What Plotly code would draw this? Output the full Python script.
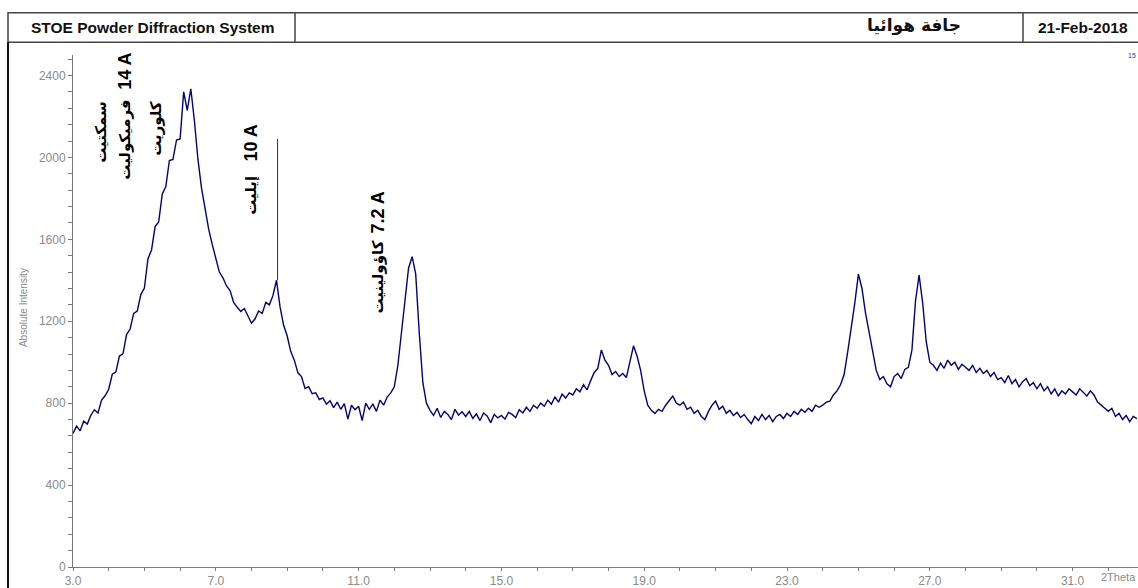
import plotly.graph_objects as go

# ---------------- data ----------------
two_theta_start = 3.0
two_theta_step = 0.1

counts_03_07 = [652, 688, 665, 712, 698, 741, 768, 752, 815, 836,
                868, 941, 952, 1030, 1041, 1135, 1162, 1238, 1250, 1330,
                1362, 1505, 1548, 1662, 1685, 1820, 1858, 1985, 1990, 2085,
                2090, 2320, 2230, 2335, 2180, 1990, 1850, 1745, 1650, 1575]
counts_07_11 = [1505, 1440, 1412, 1372, 1350, 1292, 1268, 1248, 1262, 1225,
                1190, 1212, 1250, 1238, 1292, 1280, 1325, 1400, 1270, 1180,
                1128, 1052, 1010, 948, 930, 872, 880, 846, 850, 818,
                826, 795, 812, 778, 805, 770, 798, 722, 790, 768]
counts_11_15 = [785, 715, 800, 770, 795, 760, 815, 790, 830, 850,
                880, 985, 1150, 1320, 1460, 1515, 1430, 1140, 900, 800,
                765, 740, 775, 730, 760, 745, 720, 770, 742, 758,
                735, 760, 725, 748, 715, 752, 738, 705, 745, 728]
counts_15_19 = [740, 722, 755, 745, 730, 768, 752, 780, 760, 790,
                775, 800, 785, 815, 795, 830, 805, 845, 825, 850,
                840, 870, 855, 890, 865, 910, 950, 970, 1060, 1010,
                985, 940, 955, 930, 945, 925, 1010, 1080, 1030, 960]
counts_19_23 = [860, 790, 765, 750, 770, 760, 790, 810, 835, 800,
                790, 805, 770, 780, 750, 765, 735, 720, 760, 790,
                810, 770, 785, 750, 765, 740, 755, 730, 745, 720,
                700, 735, 715, 745, 720, 740, 710, 735, 745, 725]
counts_23_27 = [750, 735, 760, 745, 770, 755, 775, 760, 790, 780,
                790, 805, 810, 840, 860, 890, 940, 1050, 1160, 1290,
                1430, 1360, 1240, 1140, 1040, 960, 915, 930, 895, 880,
                930, 945, 920, 965, 975, 1060, 1300, 1425, 1290, 1100]
counts_27_31 = [1000, 985, 960, 995, 970, 1010, 985, 1000, 965, 990,
                975, 960, 985, 950, 970, 945, 960, 930, 950, 915,
                925, 900, 935, 895, 915, 880, 905, 920, 885, 900,
                870, 895, 860, 880, 845, 870, 835, 860, 845, 870]
counts_31_33 = [855, 840, 870, 850, 835, 860, 840, 805, 790, 775,
                760, 775, 735, 750, 720, 740, 710, 735, 725]

x_tick_values = [3, 7, 11, 15, 19, 23, 27, 31]
x_tick_labels = ["3.0", "7.0", "11.0", "15.0", "19.0", "23.0", "27.0", "31.0"]
y_tick_values = [0, 400, 800, 1200, 1600, 2000, 2400]
y_tick_labels = ["0", "400", "800", "1200", "1600", "2000", "2400"]

illite_marker_2theta = 8.73
illite_marker_top = 2090
illite_marker_bottom = 1400

header_left = "STOE Powder Diffraction System"
header_mid = "جافة هوائيا"
header_right = "21-Feb-2018"

# labels: (text, px, py, font family, size)
peak_labels = [
    ("14 A", 125, 72, "Liberation Sans", 18),
    ("سمكتيت", 101, 133, "DejaVu Sans", 15),
    ("فرميكوليت", 125, 141, "DejaVu Sans", 15),
    ("كلوريت", 156, 130, "DejaVu Sans", 15),
    ("10 A", 251, 145, "Liberation Sans", 18),
    ("إيليت", 251, 198, "DejaVu Sans", 15),
    ("7.2 A", 378, 215, "Liberation Sans", 18),
    ("كاؤولينيت", 378, 281, "DejaVu Sans", 15),
]

# ---------------- build ----------------
counts = (counts_03_07 + counts_07_11 + counts_11_15 + counts_15_19 +
          counts_19_23 + counts_23_27 + counts_27_31 + counts_31_33)
two_theta = [round(two_theta_start + i * two_theta_step, 2) for i in range(len(counts))]

W, H = 1138, 588
L, R, T, B = 73, 0, 55, 13
PW, PH = W - L - R, H - T - B


def px(x):
    return (x - L) / PW


def py(y):
    return (H - B - y) / PH


GRAY = "#8a8a8a"
AXIS = "#7a7a7a"

fig = go.Figure()
fig.add_trace(go.Scatter(x=two_theta, y=counts, mode="lines",
                         line=dict(color="#000080", width=1.4),
                         hoverinfo="skip", showlegend=False))

# illite marker line
fig.add_trace(go.Scatter(x=[illite_marker_2theta, illite_marker_2theta],
                         y=[illite_marker_bottom, illite_marker_top],
                         mode="lines", line=dict(color="#333333", width=1),
                         hoverinfo="skip", showlegend=False))

shapes = []
# header box
shapes.append(dict(type="rect", xref="paper", yref="paper",
                   x0=px(8), x1=px(1145), y0=py(42), y1=py(12),
                   line=dict(color="#444444", width=1.5)))
for dx in (295, 1023):
    shapes.append(dict(type="line", xref="paper", yref="paper",
                       x0=px(dx), x1=px(dx), y0=py(42), y1=py(12),
                       line=dict(color="#444444", width=1.5)))
# left frame line
shapes.append(dict(type="line", xref="paper", yref="paper",
                   x0=px(8), x1=px(8), y0=py(42), y1=py(600),
                   line=dict(color="#111111", width=2)))

annotations = []
annotations.append(dict(text="<b>" + header_left + "</b>", x=px(152), y=py(27),
                        xref="paper", yref="paper", showarrow=False,
                        xanchor="center", yanchor="middle",
                        font=dict(family="Liberation Sans", size=15.5, color="#111111")))
annotations.append(dict(text="<b>" + header_mid + "</b>", x=px(914), y=py(25),
                        xref="paper", yref="paper", showarrow=False,
                        xanchor="center", yanchor="middle",
                        font=dict(family="DejaVu Sans", size=17, color="#111111")))
annotations.append(dict(text="<b>" + header_right + "</b>", x=px(1083), y=py(27),
                        xref="paper", yref="paper", showarrow=False,
                        xanchor="center", yanchor="middle",
                        font=dict(family="Liberation Sans", size=15.5, color="#111111")))
annotations.append(dict(text="15", x=px(1132), y=py(55),
                        xref="paper", yref="paper", showarrow=False,
                        xanchor="center", yanchor="middle",
                        font=dict(family="Liberation Sans", size=7, color="#3333aa")))
annotations.append(dict(text="Absolute Intensity", x=px(23), y=py(312),
                        xref="paper", yref="paper", showarrow=False,
                        textangle=-90, xanchor="center", yanchor="middle",
                        font=dict(family="Liberation Sans Narrow, Liberation Sans", size=10, color=GRAY)))
annotations.append(dict(text="2Theta", x=px(1099), y=py(585),
                        xref="paper", yref="paper", showarrow=False,
                        xanchor="left", yanchor="middle",
                        font=dict(family="Liberation Sans", size=11, color=GRAY)))
for txt, x0, y0, fam, size in peak_labels:
    annotations.append(dict(text="<b>" + txt + "</b>", x=px(x0), y=py(y0),
                            xref="paper", yref="paper", showarrow=False,
                            textangle=-90, xanchor="center", yanchor="middle",
                            font=dict(family=fam, size=size, color="#000000")))

fig.update_layout(
    width=W, height=H,
    margin=dict(l=L, r=R, t=T, b=B, pad=0),
    paper_bgcolor="white", plot_bgcolor="white",
    shapes=shapes, annotations=annotations,
    showlegend=False,
    xaxis=dict(range=[3.0, 3.0 + PW / 35.7], showgrid=False, zeroline=False,
               showline=True, linecolor=AXIS, linewidth=1,
               tickmode="array", tickvals=x_tick_values, ticktext=x_tick_labels,
               ticks="outside", ticklen=3, tickcolor=AXIS,
               minor=dict(dtick=1, tick0=3, ticks="outside", ticklen=3, tickcolor=AXIS),
               tickfont=dict(family="Liberation Sans", size=12, color=GRAY)),
    yaxis=dict(range=[0, 2500], showgrid=False, zeroline=False,
               showline=True, linecolor=AXIS, linewidth=1,
               tickmode="array", tickvals=y_tick_values, ticktext=y_tick_labels,
               ticks="outside", ticklen=4, tickcolor=AXIS,
               minor=dict(dtick=80, tick0=0, ticks="outside", ticklen=4, tickcolor=AXIS),
               tickfont=dict(family="Liberation Sans", size=12, color=GRAY)),
)

fig.write_html("out.html")
